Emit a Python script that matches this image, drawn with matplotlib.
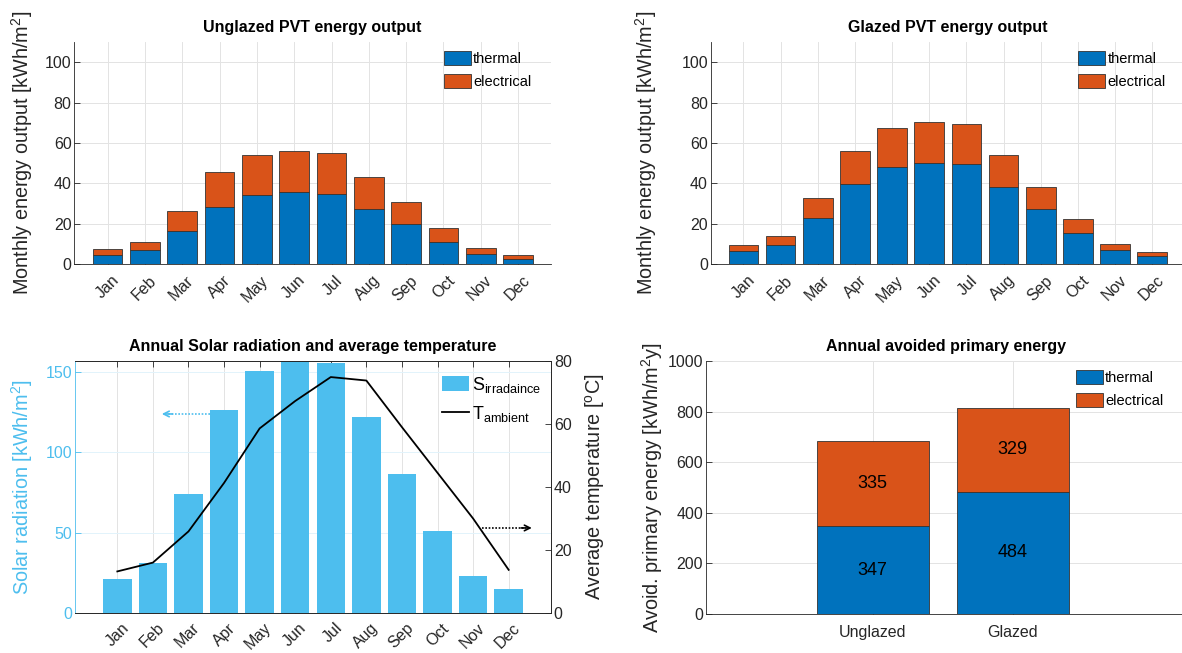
import numpy as np
import matplotlib
matplotlib.use('Agg')
import matplotlib.pyplot as plt
from matplotlib.transforms import ScaledTranslation

plt.rcParams['font.family'] = ['Liberation Sans', 'DejaVu Sans']
plt.rcParams['mathtext.fontset'] = 'custom'
plt.rcParams['mathtext.rm'] = 'Liberation Sans'
plt.rcParams['mathtext.it'] = 'Liberation Sans:italic'
plt.rcParams['mathtext.bf'] = 'Liberation Sans:bold'

# data
months = ['Jan', 'Feb', 'Mar', 'Apr', 'May', 'Jun', 'Jul', 'Aug', 'Sep', 'Oct', 'Nov', 'Dec']
unglazed_thermal = [4.5, 6.9, 16.3, 28.6, 34.5, 35.9, 35.0, 27.3, 19.8, 11.2, 5.1, 2.7]
unglazed_electrical = [3.1, 4.3, 10.3, 17.3, 19.5, 20.4, 20.3, 16.1, 11.1, 6.7, 3.0, 1.9]
glazed_thermal = [6.6, 9.5, 22.9, 39.8, 48.3, 49.9, 49.6, 38.2, 27.3, 15.6, 7.0, 4.2]
glazed_electrical = [3.0, 4.5, 10.1, 16.5, 19.0, 20.3, 19.7, 15.8, 10.9, 6.7, 2.9, 1.8]
solar = [21.4, 31.4, 74.4, 126.7, 150.6, 162.0, 156.0, 122.2, 86.8, 51.1, 22.9, 15.0]
temperature = [13.2, 16.0, 25.9, 41.3, 58.6, 67.3, 74.9, 73.8, 59.0, 44.5, 30.0, 13.7]
systems = ['Unglazed', 'Glazed']
annual_thermal = [347, 484]
annual_electrical = [335, 329]

# arrows (x tail, x head, y)
arrow_left = (3.6, 2.25, 124)
arrow_right = (11.24, 12.65, 27)

blue = '#0072BD'
orange = '#D95319'
light = '#4DBEEE'
dark = '#262626'
fs = 11.5
lfs = 14.3

fig = plt.figure(figsize=(11.82, 6.53), dpi=100)
W, H = 1182.0, 653.0


def box(l, t, r, b):
    return [l / W, 1 - b / H, (r - l) / W, (b - t) / H]


def style(ax):
    ax.tick_params(direction='in', length=4, width=0.6, colors=dark, labelsize=fs, pad=2)
    ax.grid(True, color='#e3e3e3', linewidth=0.7)
    ax.set_axisbelow(True)
    for s in ['top', 'right']:
        ax.spines[s].set_visible(False)
    for s in ['left', 'bottom']:
        ax.spines[s].set_color(dark)
        ax.spines[s].set_linewidth(0.6)


def month_labels(ax, dy=-0.11):
    ax.set_xticks(np.arange(1, 13))
    ax.set_xticklabels(months, rotation=45, ha='right', va='center', rotation_mode='anchor')
    off = ScaledTranslation(0.09, dy, fig.dpi_scale_trans)
    for lab in ax.get_xticklabels():
        lab.set_transform(lab.get_transform() + off)


def legend(ax, handles=None, labels=None, x=0.775, y=0.975, size=10.5, spacing=0.55):
    kw = dict(loc='upper left', bbox_to_anchor=(x, y), frameon=False, fontsize=size,
              handlelength=1.85 * 10.5 / size, handleheight=1.1 * 10.5 / size, handletextpad=0.15,
              labelspacing=spacing, borderpad=0, borderaxespad=0)
    if handles is None:
        return ax.legend(**kw)
    return ax.legend(handles, labels, **kw)


x = np.arange(1, 13)

# top left: unglazed
ax1 = fig.add_axes(box(74.3, 42, 551, 264.3))
style(ax1)
ax1.bar(x, unglazed_thermal, 0.8, color=blue, edgecolor='#333333', linewidth=0.6, label='thermal')
ax1.bar(x, unglazed_electrical, 0.8, bottom=unglazed_thermal, color=orange, edgecolor='#333333',
        linewidth=0.6, label='electrical')
ax1.set_xlim(0.11, 12.88)
ax1.set_ylim(0, 110)
ax1.set_yticks([0, 20, 40, 60, 80, 100])
month_labels(ax1)
ax1.set_title('Unglazed PVT energy output', fontsize=fs, fontweight='bold', pad=7)
ax1.set_ylabel('Monthly energy output [kWh/m$^2$]', fontsize=lfs, color=dark)
ax1.yaxis.set_label_coords(-0.083, 0.5)
legend(ax1, y=0.96)

# top right: glazed
ax2 = fig.add_axes(box(710.7, 42, 1185, 264.3))
style(ax2)
ax2.bar(x, glazed_thermal, 0.8, color=blue, edgecolor='#333333', linewidth=0.6, label='thermal')
ax2.bar(x, glazed_electrical, 0.8, bottom=glazed_thermal, color=orange, edgecolor='#333333',
        linewidth=0.6, label='electrical')
ax2.set_xlim(0.12, 12.88)
ax2.set_ylim(0, 110)
ax2.set_yticks([0, 20, 40, 60, 80, 100])
month_labels(ax2)
ax2.set_title('Glazed PVT energy output', fontsize=fs, fontweight='bold', pad=7)
ax2.set_ylabel('Monthly energy output [kWh/m$^2$]', fontsize=lfs, color=dark)
ax2.yaxis.set_label_coords(-0.11, 0.5)
legend(ax2, y=0.96)

# bottom left: radiation and temperature
ax3 = fig.add_axes(box(75, 361, 551, 613))
ax3.tick_params(direction='in', length=4, width=0.6, colors=dark, labelsize=fs, pad=2, top=True)
ax3.tick_params(axis='y', colors=light)
bars = ax3.bar(x, solar, 0.8, color=light, edgecolor='none')
ax3.set_xlim(-0.19, 13.19)
ax3.set_ylim(0, 157)
ax3.set_yticks([0, 50, 100, 150])
ax3.grid(axis='x', color='#e3e3e3', linewidth=0.7)
ax3.grid(axis='y', color='#e2f3fb', linewidth=0.7)
ax3.set_axisbelow(True)
month_labels(ax3, dy=-0.10)
for s in ['top', 'bottom', 'right']:
    ax3.spines[s].set_color(dark)
    ax3.spines[s].set_linewidth(0.6)
ax3.spines['left'].set_color(light)
ax3.spines['left'].set_linewidth(0.6)
ax3.set_title('Annual Solar radiation and average temperature', fontsize=fs, fontweight='bold', pad=7)
ax3.set_ylabel('Solar radiation [kWh/m$^2$]', fontsize=lfs, color=light)
ax3.yaxis.set_label_coords(-0.085, 0.5)

ax3.plot([arrow_left[0], arrow_left[1] + 0.15], [arrow_left[2]] * 2, color=light, ls=(0, (1, 1)), lw=1.2)
ax3.annotate('', xy=(arrow_left[1], arrow_left[2]), xytext=(arrow_left[1] + 0.3, arrow_left[2]),
             arrowprops=dict(arrowstyle='->', color=light, lw=1.2, shrinkA=0, shrinkB=0))

ax4 = ax3.twinx()
ax4.tick_params(direction='in', length=4, width=0.6, colors=dark, labelsize=fs, pad=2)
line, = ax4.plot(x, temperature, color='black', lw=1.3)
ax4.set_ylim(0, 80)
ax4.set_yticks([0, 20, 40, 60, 80])
for s in ['top', 'bottom', 'right']:
    ax4.spines[s].set_color(dark)
    ax4.spines[s].set_linewidth(0.6)
ax4.spines['left'].set_visible(False)
ax4.set_ylabel('Average temperature [$^{\\rm o}$C]', fontsize=lfs, color=dark)
ax4.yaxis.set_label_coords(1.068, 0.5)
ax4.plot([arrow_right[0], arrow_right[1] - 0.15], [arrow_right[2]] * 2, color='black', ls=(0, (1, 1)), lw=1.2)
ax4.annotate('', xy=(arrow_right[1], arrow_right[2]), xytext=(arrow_right[1] - 0.3, arrow_right[2]),
             arrowprops=dict(arrowstyle='->', color='black', lw=1.2, shrinkA=0, shrinkB=0))
legend(ax4, [bars, line], ['S$_{\\rm irradaince}$', 'T$_{\\rm ambient}$'], x=0.772, y=0.945,
       size=13, spacing=0.5)

# bottom right: annual avoided primary energy
ax5 = fig.add_axes(box(706, 361, 1185, 614))
style(ax5)
pos = np.arange(1, 3)
ax5.bar(pos, annual_thermal, 0.8, color=blue, edgecolor='#333333', linewidth=0.6, label='thermal')
ax5.bar(pos, annual_electrical, 0.8, bottom=annual_thermal, color=orange, edgecolor='#333333',
        linewidth=0.6, label='electrical')
for p, t, e in zip(pos, annual_thermal, annual_electrical):
    ax5.text(p, t / 2, str(t), ha='center', va='center', fontsize=13, color='black')
    ax5.text(p, t + e / 2, str(e), ha='center', va='center', fontsize=13, color='black')
ax5.set_xlim(-0.19, 3.23)
ax5.set_ylim(0, 1000)
ax5.set_yticks([0, 200, 400, 600, 800, 1000])
ax5.set_xticks(pos)
ax5.set_xticklabels(systems)
ax5.tick_params(axis='x', pad=8)
ax5.set_title('Annual avoided primary energy', fontsize=fs, fontweight='bold', pad=7)
ax5.set_ylabel('Avoid. primary energy [kWh/m$^2$y]', fontsize=lfs, color=dark)
ax5.yaxis.set_label_coords(-0.085, 0.5)
legend(ax5, x=0.772, y=0.965)

fig.savefig('out.png', dpi=100)
